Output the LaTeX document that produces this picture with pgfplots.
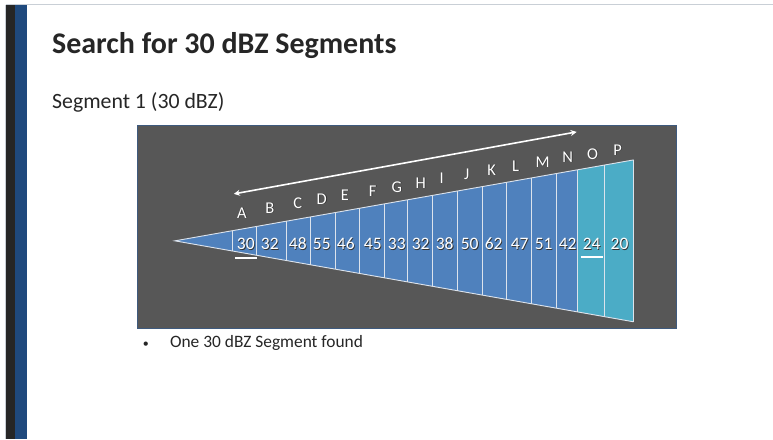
\documentclass[border=0pt]{standalone}
\usepackage{fontspec}
\setmainfont{Carlito}
\usepackage{pgfplots}
\usepackage{pgfplotstable}
\pgfplotsset{compat=1.18}
\usetikzlibrary{arrows.meta}

\definecolor{panel}{HTML}{575757}
\definecolor{panelrim}{HTML}{3E5A7E}
\definecolor{binblue}{HTML}{4F81BD}
\definecolor{bincyan}{HTML}{4BACC6}
\definecolor{edge}{HTML}{DCE3EC}
\definecolor{darkbar}{HTML}{262626}
\definecolor{bluebar}{HTML}{1F497D}
\definecolor{ink}{HTML}{262626}

% bin boundaries: x position and half height of the wedge there
\pgfplotstableread{
x e
233 10.24
257 14.47
287 19.77
311 24.0
336 28.42
360 32.65
385 37.07
408 41.12
433 45.54
458 49.95
483 54.36
507 58.6
532 63.0
557 67.4
578 71.1
605 75.9
634 81.0
}\bounds

% dBZ value in each bin
\pgfplotstableread{
x y v
246 244 30
270 244 32
298 244 48
322 244 55
346 244 46
373 244 45
397 244 33
421 244 32
445 244 38
470 244 50
494 244 62
520 244 47
544 244 51
568 244 42
592 244 24
620 244 20
}\dbz

% bin letters above the upper edge
\pgfplotstableread{
x y l
242 213 A
270 208 B
298 203 C
322 199 D
345 195 E
373 191 F
397 187 G
421 183 H
442 178 I
467 174 J
492 170 K
516 166 L
543 162 M
568 157 N
593 154 O
618 150 P
}\letters

\begin{document}
\begin{tikzpicture}
\begin{axis}[
    scale only axis,
    width=773pt, height=439pt,
    xmin=0, xmax=773, ymin=0, ymax=439,
    y dir=reverse,
    axis lines=none,
    clip=false,
]
% slide
\addplot[fill=white, draw=none] coordinates {(0,0) (773,0) (773,439) (0,439)} -- cycle;
\addplot[draw=edge!80!gray, line width=1pt] coordinates {(6,5) (773,5)};
\addplot[draw=edge!80!gray, line width=0.6pt] coordinates {(5,5) (5,439)};
\addplot[fill=darkbar, draw=none] coordinates {(6,5) (15,5) (15,439) (6,439)} -- cycle;
\addplot[fill=bluebar, draw=none] coordinates {(15,5) (27,5) (27,439) (15,439)} -- cycle;

% panel
\addplot[fill=panel, draw=panelrim, line width=0.8pt] coordinates {(137,125) (677,125) (677,329) (137,329)} -- cycle;

% wedge
\addplot[fill=binblue, draw=none] coordinates {(175,241) (578,169.9) (578,312.1)} -- cycle;
\addplot[fill=bincyan, draw=none] coordinates {(578,169.9) (634,160) (634,322) (578,312.1)} -- cycle;
\addplot[draw=edge, line width=0.9pt] coordinates {(634,160) (175,241) (634,322)};
\addplot[draw=none, forget plot, error bars/.cd, y dir=both, y explicit, error mark=none,
    error bar style={draw=edge, line width=0.9pt}]
    table[x=x, y expr=241, y error=e] {\bounds};

% arrow
\addplot[white, line width=1.6pt, {Stealth[length=6pt,width=6pt]}-{Stealth[length=6pt,width=6pt]}]
    coordinates {(234,194) (577,132)};

% letters
\addplot[draw=none, nodes near coords, point meta=explicit symbolic,
    every node near coord/.append style={anchor=center, xshift=0.8pt, yshift=-0.8pt,
        text=black!80, font=\fontsize{16.5}{18}\selectfont}]
    table[x=x, y=y, meta=l] {\letters};
\addplot[draw=none, nodes near coords, point meta=explicit symbolic,
    every node near coord/.append style={anchor=center, text=white,
        font=\fontsize{16.5}{18}\selectfont}]
    table[x=x, y=y, meta=l] {\letters};

% values
\addplot[draw=none, nodes near coords, point meta=explicit symbolic,
    every node near coord/.append style={anchor=center, xshift=0.8pt, yshift=-0.8pt,
        text=black!80, font=\fontsize{17.5}{20}\selectfont}]
    table[x=x, y=y, meta=v] {\dbz};
\addplot[draw=none, nodes near coords, point meta=explicit symbolic,
    every node near coord/.append style={anchor=center, text=white,
        font=\fontsize{17.5}{20}\selectfont}]
    table[x=x, y=y, meta=v] {\dbz};

% underlines of the 30 dBZ segment ends
\addplot[white, line width=2pt] coordinates {(235,258) (257,258)};
\addplot[white, line width=2pt] coordinates {(581,257) (603,257)};

% text
\node[anchor=base west, inner sep=0pt, text=ink, font=\fontsize{30}{34}\selectfont\bfseries]
    at (axis cs:52,54) {Search for 30 dBZ Segments};
\node[anchor=base west, inner sep=0pt, text=ink, font=\fontsize{21.8}{26}\selectfont]
    at (axis cs:52,109) {Segment 1 (30 dBZ)};
\node[anchor=base, inner sep=0pt, text=ink, font=\fontsize{12}{14}\selectfont]
    at (axis cs:146,348) {•};
\node[anchor=base west, inner sep=0pt, text=ink, font=\fontsize{17.4}{20}\selectfont]
    at (axis cs:170,348) {One 30 dBZ Segment found};
\end{axis}
\end{tikzpicture}
\end{document}
